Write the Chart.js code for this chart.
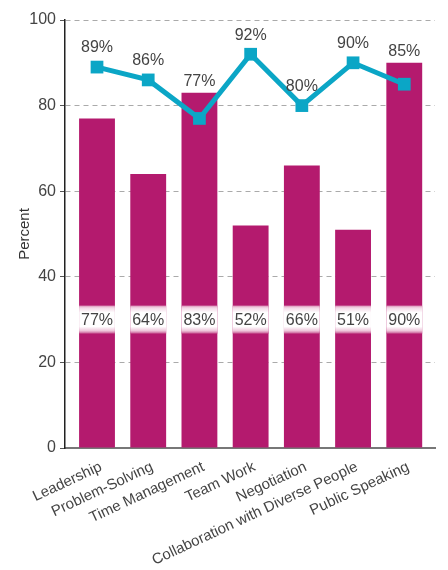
<!DOCTYPE html>
<html>
<head>
<meta charset="utf-8">
<script src="https://cdn.jsdelivr.net/npm/chart.js@4.4.0/dist/chart.umd.min.js"></script>
<style>
  html, body { margin: 0; padding: 0; background: #fff; }
  #wrap { width: 448px; height: 570px; }
</style>
</head>
<body>
<div id="wrap"><canvas id="skills"></canvas></div>
<script>
const skills = ['Leadership', 'Problem-Solving', 'Time Management', 'Team Work', 'Negotiation', 'Collaboration with Diverse People', 'Public Speaking'];
const barValues = [77, 64, 83, 52, 66, 51, 90];
const lineValues = [89, 86, 77, 92, 80, 90, 85];
const bandValue = 30; // height where the bar labels sit

const barColor = '#b41a6e';
const lineColor = '#0ba6c6';
const fontFamily = '"Liberation Sans", Arial, Helvetica, sans-serif';

// labels on the bars (white strip) and above the line markers
const valueLabels = {
    id: 'valueLabels',
    afterDatasetsDraw(chart) {
        let ctx = chart.ctx;
        let points = chart.getDatasetMeta(0).data;
        let bars = chart.getDatasetMeta(1).data;
        let bandY = chart.scales.y.getPixelForValue(bandValue);

        ctx.save();
        ctx.font = '16px ' + fontFamily;
        ctx.textAlign = 'center';
        ctx.textBaseline = 'middle';

        bars.forEach((bar, i) => {
            let left = bar.x - bar.width / 2;
            let grad = ctx.createLinearGradient(0, bandY - 14, 0, bandY + 14);
            grad.addColorStop(0, '#d98fb6');
            grad.addColorStop(0.08, '#f3d7e5');
            grad.addColorStop(0.25, '#ffffff');
            grad.addColorStop(0.75, '#ffffff');
            grad.addColorStop(0.9, '#eec5da');
            grad.addColorStop(1, '#c65490');
            ctx.fillStyle = grad;
            ctx.fillRect(left, bandY - 14, bar.width, 28);
            ctx.fillStyle = '#444';
            ctx.fillText(barValues[i] + '%', bar.x, bandY + 1);
        });

        points.forEach((pt, i) => {
            let y = Math.min(pt.y - 19, bars[i].y - 11);
            ctx.fillStyle = '#444';
            ctx.fillText(lineValues[i] + '%', pt.x, y);
        });
        ctx.restore();
    }
};

new Chart(document.getElementById('skills'), {
    type: 'bar',
    data: {
        datasets: [
            {
                type: 'line',
                data: lineValues.map((v, i) => ({ x: i, y: v })),
                borderColor: lineColor,
                borderWidth: 5,
                pointStyle: 'rect',
                pointRadius: 9,
                pointBackgroundColor: lineColor,
                pointBorderWidth: 0,
                tension: 0
            },
            {
                type: 'bar',
                data: barValues.map((v, i) => ({ x: i, y: v })),
                backgroundColor: barColor,
                borderWidth: 0,
                barPercentage: 0.7,
                categoryPercentage: 1
            }
        ]
    },
    options: {
        responsive: true,
        maintainAspectRatio: false,
        animation: false,
        layout: { padding: { top: 20, right: 13, left: 0, bottom: 0 } },
        plugins: {
            legend: { display: false },
            tooltip: { enabled: false }
        },
        scales: {
            x: {
                type: 'linear',
                offset: false,
                min: -0.625,
                max: 6.6,
                afterFit: (scale) => { scale.height = 122; },
                grid: { display: false, offset: false },
                border: { display: true, color: '#777', width: 2 },
                ticks: {
                    stepSize: 1,
                    includeBounds: false,
                    autoSkip: false,
                    minRotation: 25,
                    maxRotation: 25,
                    padding: 2,
                    labelOffset: 4,
                    color: '#444',
                    font: { family: fontFamily, size: 15 },
                    callback: (value) => skills[value] ?? ''
                }
            },
            y: {
                min: 0,
                max: 100,
                afterFit: (scale) => { scale.width = 65; },
                grid: { color: '#aaa', lineWidth: 1, tickLength: 5, tickColor: '#555' },
                border: { display: true, color: '#222', width: 1.5, dash: [5, 4] },
                ticks: {
                    stepSize: 20,
                    padding: 4,
                    color: '#444',
                    font: { family: fontFamily, size: 16 }
                },
                title: {
                    display: true,
                    text: 'Percent',
                    color: '#333',
                    padding: { top: 16, bottom: 0 },
                    font: { family: fontFamily, size: 15 }
                }
            }
        }
    },
    plugins: [valueLabels]
});
</script>
</body>
</html>
